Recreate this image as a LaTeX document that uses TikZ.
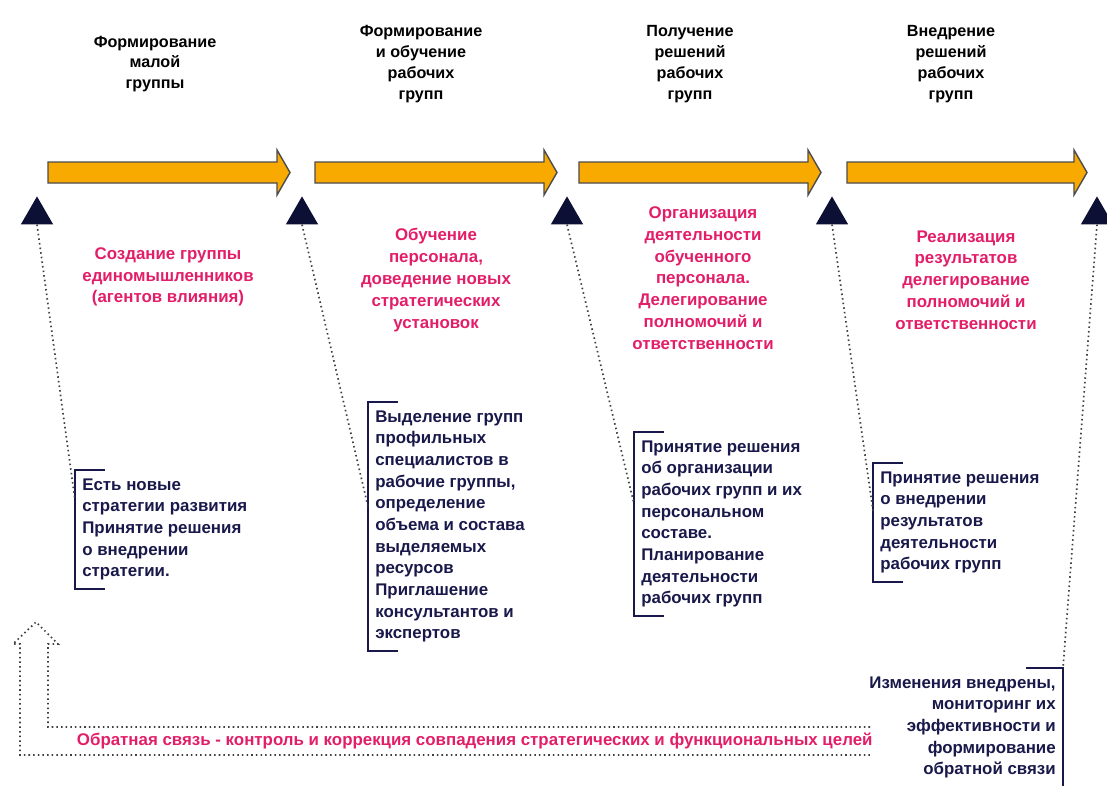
\documentclass[tikz,border=0pt]{standalone}
\usepackage{fontspec}
\setmainfont{Liberation Sans}
\usetikzlibrary{positioning}
\usetikzlibrary{shapes.geometric}
\usetikzlibrary{calc}
\definecolor{stageorange}{RGB}{248,170,0}
\definecolor{marknavy}{RGB}{12,16,52}
\definecolor{goalpink}{RGB}{226,30,105}
\definecolor{notenavy}{RGB}{24,24,74}
\tikzset{
	triangle/.style = {regular polygon, regular polygon sides=3},
	marker/.style = {triangle, fill=marknavy, inner sep=0pt, minimum size=0.93cm},
	stage/.style = {fill=stageorange, draw=black!70, line width=1pt},
	phase/.style = {align=center, font=\bfseries\fontsize{11.5}{14.8}\selectfont},
	goal/.style = {align=center, text=goalpink, font=\bfseries\fontsize{12}{15.5}\selectfont},
	note/.style = {text=notenavy, inner xsep=5pt, inner ysep=6pt, font=\bfseries\fontsize{12}{15.4}\selectfont},
	bracket/.style = {draw=notenavy, line width=1.6pt},
	link/.style = {draw=black!75, line width=1.2pt, dash pattern=on 1.1pt off 2.2pt}}

\begin{document}
\begin{tikzpicture}[x=0.025cm, y=-0.025cm]
    \useasboundingbox (0,0) rectangle (1107,785);
    % stages
    \draw[stage] (48,162) -- (277,162) -- (277,150) -- (290,172.5) -- (277,195) -- (277,183) -- (48,183) -- cycle;
    \draw[stage] (315,162) -- (544,162) -- (544,150) -- (557,172.5) -- (544,195) -- (544,183) -- (315,183) -- cycle;
    \draw[stage] (579,162) -- (808,162) -- (808,150) -- (821,172.5) -- (808,195) -- (808,183) -- (579,183) -- cycle;
    \draw[stage] (847,162) -- (1074,162) -- (1074,150) -- (1087,172.5) -- (1074,195) -- (1074,183) -- (847,183) -- cycle;
    \node[phase] (h1) at (155,64) {Формирование\\малой\\группы};
    \node[phase] (h2) at (421,64) {Формирование\\и обучение\\рабочих\\групп};
    \node[phase] (h3) at (690,64) {Получение\\решений\\рабочих\\групп};
    \node[phase] (h4) at (951,64) {Внедрение\\решений\\рабочих\\групп};
    \node[marker] (t1) at (37,215) {};
    \node[marker] (t2) at (302,215) {};
    \node[marker] (t3) at (567,215) {};
    \node[marker] (t4) at (832,215) {};
    \node[marker] (t5) at (1097,215) {};
    \node[goal] (g1) at (168,277) {Создание группы\\единомышленников\\(агентов влияния)};
    \node[goal] (g2) at (436,280) {Обучение\\персонала,\\доведение новых\\стратегических\\установок};
    \node[goal] (g3) at (703,278) {Организация\\деятельности\\обученного\\персонала.\\Делегирование\\полномочий и\\ответственности};
    \node[goal] (g4) at (966,280) {Реализация\\результатов\\делегирование\\полномочий и\\ответственности};
    % decisions
    \node[note, align=left, anchor=north west] (n1) at (75,470) {Есть новые\\стратегии развития\\Принятие решения\\о внедрении\\стратегии.};
    \node[note, align=left, anchor=north west] (n2) at (368,402) {Выделение групп\\профильных\\специалистов в\\рабочие группы,\\определение\\объема и состава\\выделяемых\\ресурсов\\Приглашение\\консультантов и\\экспертов};
    \node[note, align=left, anchor=north west] (n3) at (634,432) {Принятие решения\\об организации\\рабочих групп и их\\персональном\\составе.\\Планирование\\деятельности\\рабочих групп};
    \node[note, align=left, anchor=north west] (n4) at (873,463) {Принятие решения\\о внедрении\\результатов\\деятельности\\рабочих групп};
    \node[note, align=right, anchor=north east] (n5) at (1063,668) {Изменения внедрены,\\мониторинг их\\эффективности и\\формирование\\обратной связи};
    \draw[bracket] (n1.north west) ++(30,0) -| (n1.south west) -- ++(30,0);
    \draw[bracket] (n2.north west) ++(30,0) -| (n2.south west) -- ++(30,0);
    \draw[bracket] (n3.north west) ++(30,0) -| (n3.south west) -- ++(30,0);
    \draw[bracket] (n4.north west) ++(30,0) -| (n4.south west) -- ++(30,0);
    \draw[bracket] (n5.north east) ++(-37,0) -| (n5.south east) -- ++(-37,0);
    \draw[link] (t1.south) -- ($(n1.north west)!0.25!(n1.south west)$);
    \draw[link] (t2.south) -- ($(n2.north west)!0.42!(n2.south west)$);
    \draw[link] (t3.south) -- ($(n3.north west)!0.39!(n3.south west)$);
    \draw[link] (t4.south) -- ($(n4.north west)!0.4!(n4.south west)$);
    \draw[link] (t5.south) -- (n5.north east);
    % feedback
    \draw[link] (870,727) -- (48,727) -- (48,644) -- (58,644) -- (36,622) -- (13,644) -- (20,644) -- (20,755) -- (870,755);
    \node[goal, anchor=west] (fb) at (72,741) {Обратная связь - контроль и коррекция совпадения стратегических и функциональных целей};
\end{tikzpicture}
\end{document}
